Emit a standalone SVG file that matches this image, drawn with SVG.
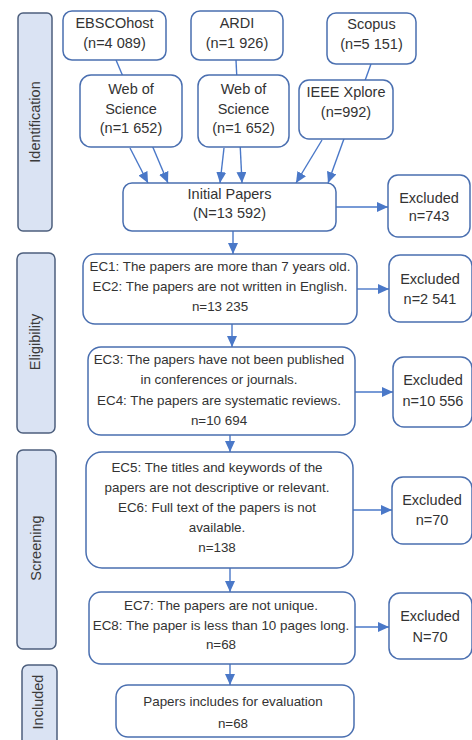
<svg xmlns="http://www.w3.org/2000/svg" width="472" height="740" viewBox="0 0 472 740">
<style>
.bg{fill:#ffffff}
.box{fill:#ffffff;stroke:#4a6fb0;stroke-width:1.5}
.side{fill:#dae3f3;stroke:#4d5f7d;stroke-width:1.5}
.con{stroke:#4a78c8;stroke-width:1.4;fill:none;marker-end:url(#ah)}
.a{font-family:"Liberation Sans",Arial,sans-serif;font-size:14.5px;fill:#333333;text-anchor:middle}
.c{font-family:"Liberation Sans",Arial,sans-serif;font-size:13.4px;fill:#333333;text-anchor:middle}
.s{font-family:"Liberation Sans",Arial,sans-serif;font-size:14.5px;fill:#3a3a3a;text-anchor:middle}
</style>
<defs>
<marker id="ah" markerUnits="userSpaceOnUse" markerWidth="11" markerHeight="10" refX="11" refY="5" orient="auto">
<path d="M0,0 L11,5 L0,10 z" fill="#4a78c8"/>
</marker>
</defs>
<rect class="bg" x="0" y="0" width="472" height="740"/>
<g id="connectors">
<line class="con" x1="116" y1="60" x2="168" y2="183"/>
<line class="con" x1="130" y1="148" x2="148" y2="183"/>
<line class="con" x1="236" y1="60" x2="242" y2="183"/>
<line class="con" x1="224" y1="148" x2="220" y2="183"/>
<line class="con" x1="371" y1="64" x2="328" y2="183"/>
<line class="con" x1="322" y1="140" x2="296" y2="183"/>
<line class="con" x1="336" y1="207" x2="388" y2="207"/>
<line class="con" x1="233" y1="231" x2="233" y2="254"/>
<line class="con" x1="357" y1="289" x2="389" y2="289"/>
<line class="con" x1="232" y1="324" x2="232" y2="347"/>
<line class="con" x1="355" y1="392" x2="393" y2="392"/>
<line class="con" x1="230" y1="435" x2="230" y2="452"/>
<line class="con" x1="353" y1="510" x2="392" y2="510"/>
<line class="con" x1="230" y1="568" x2="230" y2="592"/>
<line class="con" x1="355" y1="627" x2="389" y2="627"/>
<line class="con" x1="230" y1="664" x2="230" y2="685"/>
</g>
<g id="stage-identification">
<rect class="side" x="18" y="13" width="34" height="218" rx="5"/>
<text class="s" transform="translate(40,122) rotate(-90)">Identification</text>
</g>
<g id="stage-eligibility">
<rect class="side" x="17" y="253" width="38" height="180" rx="6"/>
<text class="s" transform="translate(40,342) rotate(-90)">Eligibility</text>
</g>
<g id="stage-screening">
<rect class="side" x="17" y="450" width="39" height="199" rx="6"/>
<text class="s" transform="translate(41,548) rotate(-90)">Screening</text>
</g>
<g id="stage-included">
<rect class="side" x="22" y="665" width="35" height="85" rx="6"/>
<text class="s" transform="translate(43,702) rotate(-90)">Included</text>
</g>
<g id="ebscohost">
<rect class="box" x="63" y="11" width="103" height="49" rx="9"/>
<text class="a" x="114.5" y="28">EBSCOhost</text>
<text class="a" x="114.5" y="48">(n=4 089)</text>
</g>
<g id="wos1">
<rect class="box" x="80" y="75" width="102" height="72" rx="11"/>
<text class="a" x="131" y="94">Web of</text>
<text class="a" x="131" y="114">Science</text>
<text class="a" x="131" y="133">(n=1 652)</text>
</g>
<g id="ardi">
<rect class="box" x="191" y="11" width="92" height="49" rx="9"/>
<text class="a" x="237" y="28">ARDI</text>
<text class="a" x="237" y="48">(n=1 926)</text>
</g>
<g id="wos2">
<rect class="box" x="198" y="75" width="91" height="72" rx="11"/>
<text class="a" x="243.5" y="94">Web of</text>
<text class="a" x="243.5" y="114">Science</text>
<text class="a" x="243.5" y="133">(n=1 652)</text>
</g>
<g id="scopus">
<rect class="box" x="327" y="13" width="89" height="51" rx="9"/>
<text class="a" x="371.5" y="29">Scopus</text>
<text class="a" x="371.5" y="49">(n=5 151)</text>
</g>
<g id="ieee">
<rect class="box" x="299" y="80" width="94" height="59" rx="10"/>
<text class="a" x="346" y="97">IEEE Xplore</text>
<text class="a" x="346" y="117">(n=992)</text>
</g>
<g id="initial">
<rect class="box" x="123" y="183" width="213" height="48" rx="9"/>
<text class="a" x="229.5" y="199">Initial Papers</text>
<text class="a" x="229.5" y="218">(N=13 592)</text>
</g>
<g id="excl-743">
<rect class="box" x="388" y="175" width="82" height="62" rx="10"/>
<text class="a" x="429" y="203">Excluded</text>
<text class="a" x="429" y="221">n=743</text>
</g>
<g id="ec1-ec2">
<rect class="box" x="83" y="254" width="274" height="70" rx="12"/>
<text class="c" x="220" y="271">EC1: The papers are more than 7 years old.</text>
<text class="c" x="220" y="291">EC2: The papers are not written in English.</text>
<text class="c" x="220" y="311">n=13 235</text>
</g>
<g id="excl-2541">
<rect class="box" x="389" y="255" width="83" height="67" rx="11"/>
<text class="a" x="430" y="284">Excluded</text>
<text class="a" x="430" y="304">n=2 541</text>
</g>
<g id="ec3-ec4">
<rect class="box" x="88" y="347" width="267" height="88" rx="13"/>
<text class="c" x="219" y="364">EC3: The papers have not been published</text>
<text class="c" x="219" y="384">in conferences or journals.</text>
<text class="c" x="219" y="405">EC4: The papers are systematic reviews.</text>
<text class="c" x="219" y="425">n=10 694</text>
</g>
<g id="excl-10556">
<rect class="box" x="393" y="357" width="79" height="70" rx="11"/>
<text class="a" x="433" y="385">Excluded</text>
<text class="a" x="433" y="406">n=10 556</text>
</g>
<g id="ec5-ec6">
<rect class="box" x="86" y="452" width="267" height="116" rx="16"/>
<text class="c" x="217" y="472">EC5: The titles and keywords of the</text>
<text class="c" x="217" y="492">papers are not descriptive or relevant.</text>
<text class="c" x="217" y="512">EC6: Full text of the papers is not</text>
<text class="c" x="217" y="532">available.</text>
<text class="c" x="217" y="552">n=138</text>
</g>
<g id="excl-70">
<rect class="box" x="392" y="477" width="80" height="67" rx="11"/>
<text class="a" x="432" y="505">Excluded</text>
<text class="a" x="432" y="525">n=70</text>
</g>
<g id="ec7-ec8">
<rect class="box" x="89" y="592" width="266" height="72" rx="12"/>
<text class="c" x="221" y="610">EC7: The papers are not unique.</text>
<text class="c" x="221" y="630">EC8: The paper is less than 10 pages long.</text>
<text class="c" x="221" y="649">n=68</text>
</g>
<g id="excl-n70">
<rect class="box" x="389" y="593" width="83" height="66" rx="11"/>
<text class="a" x="430" y="621">Excluded</text>
<text class="a" x="430" y="642">N=70</text>
</g>
<g id="final">
<rect class="box" x="116" y="685" width="238" height="52" rx="12"/>
<text class="c" x="233" y="706">Papers includes for evaluation</text>
<text class="c" x="233" y="728">n=68</text>
</g>
</svg>
